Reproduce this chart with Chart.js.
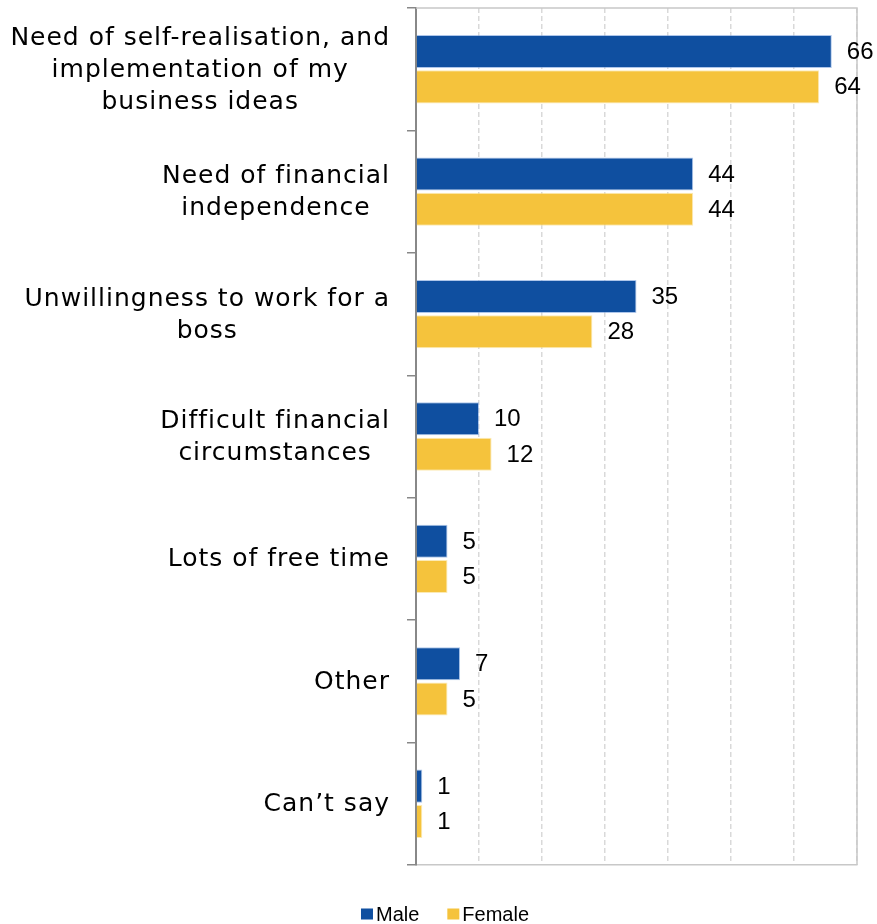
<!DOCTYPE html>
<html>
<head>
<meta charset="utf-8">
<script src="https://cdn.jsdelivr.net/npm/chart.js@4.4.1/dist/chart.umd.min.js"></script>
<style>
  html, body { margin: 0; padding: 0; background: #fff; }
</style>
</head>
<body>
<canvas id="myChart" width="877" height="924"></canvas>
<script>
// Reasons for starting a business, % by gender
const categories = [
  ["Need of self-realisation, and", "implementation of my", "business ideas"],
  ["Need of financial", "independence"],
  ["Unwillingness to work for a", "boss"],
  ["Difficult financial", "circumstances"],
  ["Lots of free time"],
  ["Other"],
  ["Can’t say"]
];
const maleValues = [66, 44, 35, 10, 5, 7, 1];
const femaleValues = [64, 44, 28, 12, 5, 5, 1];
const xTicks = [0, 10, 20, 30, 40, 50, 60, 70];

const BLUE = '#0f4fa0';
const YELLOW = '#f5c33c';

// Category names: lines centred on each other, block right-aligned against the axis
const categoryLabels = {
  id: 'categoryLabels',
  afterDraw(chart) {
    const ctx = chart.ctx;
    const y = chart.scales.y;
    ctx.save();
    ctx.font = '25px "DejaVu Sans"';
    ctx.letterSpacing = '1px';
    ctx.fillStyle = '#000';
    ctx.textAlign = 'center';
    ctx.textBaseline = 'middle';
    categories.forEach((lines, i) => {
      const yc = y.getPixelForValue(i) + 1;
      const w = Math.max(...lines.map(l => ctx.measureText(l).width));
      const xc = 390 - w / 2;
      lines.forEach((line, j) => {
        ctx.fillText(line, xc, yc + (j - (lines.length - 1) / 2) * 32);
      });
    });
    ctx.restore();
  }
};

// Numbers at the end of each bar
const valueLabels = {
  id: 'valueLabels',
  afterDatasetsDraw(chart) {
    const ctx = chart.ctx;
    ctx.save();
    ctx.font = '24px "Liberation Sans", Arial';
    ctx.fillStyle = '#000';
    ctx.textAlign = 'left';
    ctx.textBaseline = 'middle';
    chart.data.datasets.forEach((ds, di) => {
      chart.getDatasetMeta(di).data.forEach((bar, i) => {
        ctx.fillText(ds.data[i], bar.x + 15, bar.y + 1);
      });
    });
    ctx.restore();
  }
};

// Top and right edges of the plot frame
const plotFrame = {
  id: 'plotFrame',
  beforeDatasetsDraw(chart) {
    const { ctx, chartArea: a } = chart;
    ctx.save();
    ctx.strokeStyle = '#c8c8c8';
    ctx.lineWidth = 1.5;
    ctx.beginPath();
    ctx.moveTo(a.left, a.top);
    ctx.lineTo(a.right, a.top);
    ctx.lineTo(a.right, a.bottom);
    ctx.stroke();
    ctx.restore();
  }
};

// Compact legend under the chart
const bottomLegend = {
  id: 'bottomLegend',
  afterDraw(chart) {
    const ctx = chart.ctx;
    ctx.save();
    ctx.font = '20px "Liberation Sans", Arial';
    ctx.textBaseline = 'middle';
    ctx.textAlign = 'left';
    const items = chart.data.datasets.map(ds => ({ text: ds.label, color: ds.backgroundColor }));
    const widths = items.map(it => 12 + 3 + ctx.measureText(it.text).width);
    const total = widths.reduce((a, b) => a + b, 0) + 28 * (items.length - 1);
    let x = 445 - total / 2;
    const yc = 914;
    items.forEach((it, i) => {
      ctx.fillStyle = it.color;
      ctx.fillRect(x, yc - 5.5, 12, 11);
      ctx.fillStyle = '#000';
      ctx.fillText(it.text, x + 15, yc + 1);
      x += widths[i] + 28;
    });
    ctx.restore();
  }
};

const ctx = document.getElementById('myChart').getContext('2d');
const myChart = new Chart(ctx, {
  type: 'bar',
  data: {
    labels: categories,
    datasets: [
      {
        label: 'Male',
        data: maleValues,
        backgroundColor: BLUE,
        borderColor: 'rgba(120,160,220,0.6)',
        borderWidth: 1,
        barPercentage: 0.935,
        categoryPercentage: 0.577
      },
      {
        label: 'Female',
        data: femaleValues,
        backgroundColor: YELLOW,
        borderColor: 'rgba(250,225,150,0.7)',
        borderWidth: 1,
        barPercentage: 0.935,
        categoryPercentage: 0.577
      }
    ]
  },
  options: {
    indexAxis: 'y',
    responsive: false,
    animation: false,
    devicePixelRatio: 1,
    layout: { padding: { top: 8, right: 20, bottom: 59, left: 0 } },
    plugins: {
      legend: { display: false },
      tooltip: { enabled: false }
    },
    scales: {
      x: {
        min: xTicks[0],
        max: xTicks[xTicks.length - 1],
        ticks: { display: false, stepSize: xTicks[1] - xTicks[0] },
        grid: { color: '#d9d9d9', lineWidth: 1.5, drawTicks: false },
        border: { display: true, color: '#c8c8c8', width: 1.5, dash: [5, 3] }
      },
      y: {
        ticks: { display: false },
        grid: { drawOnChartArea: false, drawTicks: true, tickLength: 9, color: '#888', lineWidth: 1.5 },
        border: { display: true, color: '#888', width: 2 },
        afterFit(scale) { scale.width = 416; }
      }
    }
  },
  plugins: [plotFrame, valueLabels, categoryLabels, bottomLegend]
});
</script>
</body>
</html>
